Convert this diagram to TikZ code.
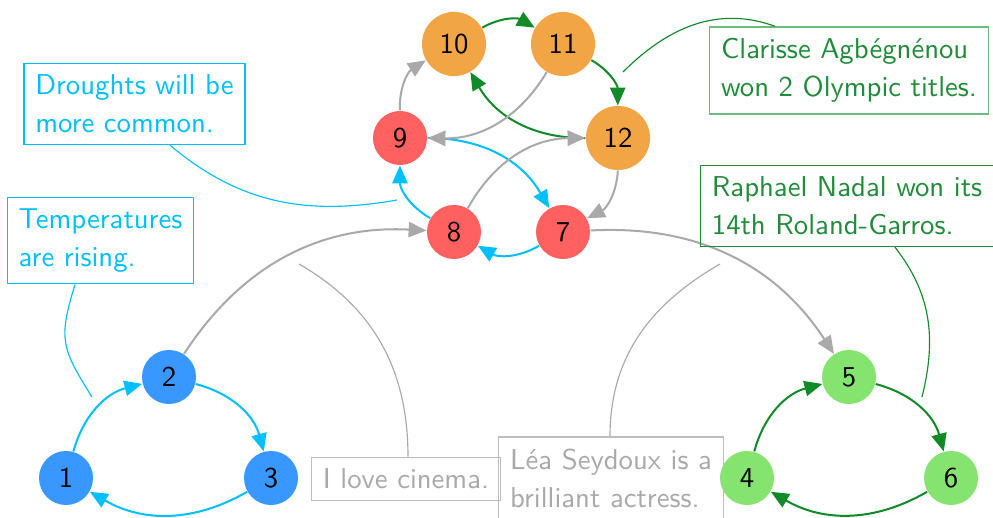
\documentclass[tikz,border=0pt]{standalone}
\usetikzlibrary{arrows.meta,calc}
\definecolor{nblue}{RGB}{56,152,255}
\definecolor{nred}{RGB}{255,96,96}
\definecolor{norange}{RGB}{242,165,68}
\definecolor{ngreen}{RGB}{133,228,112}
\definecolor{ecyan}{RGB}{0,191,255}
\definecolor{egreen}{RGB}{17,138,40}
\definecolor{egray}{RGB}{169,169,169}
\definecolor{tgreen}{RGB}{32,140,58}
\definecolor{bgreenlight}{RGB}{110,185,125}
\definecolor{bgray}{RGB}{190,190,190}
\begin{document}
\begin{tikzpicture}[x=0.348pt,y=-0.348pt,
  font=\sffamily\fontsize{10}{13.2}\selectfont,
  vert/.style={circle, inner sep=0pt, text=black},
  sone/.style={minimum size=18.8pt},
  stwo/.style={minimum size=22.3pt},
  edge/.style={line width=0.7pt, -{Triangle[length=6.2pt,width=5.3pt]}},
  cyanedge/.style={edge, ecyan},
  greenedge/.style={edge, egreen},
  grayedge/.style={edge, egray},
  annot/.style={draw, align=left, inner sep=4pt, line width=0.45pt},
  thinline/.style={line width=0.4pt},
]
\useasboundingbox (0,0) rectangle (993,518);

% blue graph
\node[vert,sone,fill=nblue] (n1) at (66,478) {1};
\node[vert,sone,fill=nblue] (n2) at (169,377) {2};
\node[vert,sone,fill=nblue] (n3) at (271,478) {3};
% green graph
\node[vert,sone,fill=ngreen] (n4) at (747,478) {4};
\node[vert,sone,fill=ngreen] (n5) at (849,377) {5};
\node[vert,sone,fill=ngreen] (n6) at (951,478) {6};
% red / orange
\node[vert,sone,fill=nred] (n7) at (563,232) {7};
\node[vert,sone,fill=nred] (n8) at (454,232) {8};
\node[vert,sone,fill=nred] (n9) at (400,138) {9};
\node[vert,stwo,fill=norange] (n10) at (454,44) {10};
\node[vert,stwo,fill=norange] (n11) at (563,44) {11};
\node[vert,stwo,fill=norange] (n12) at (618,138) {12};

\draw[cyanedge] (n1) to[bend left] (n2);
\draw[cyanedge] (n2) to[bend left] (n3);
\draw[cyanedge] (n3) to[bend left] (n1);
\draw[greenedge] (n4) to[bend left] (n5);
\draw[greenedge] (n5) to[bend left] (n6);
\draw[greenedge] (n6) to[bend left] (n4);
\draw[cyanedge] (n8) to[bend left] (n9);
\draw[cyanedge] (n9) to[bend left] (n7);
\draw[cyanedge] (n7) to[bend left] (n8);
\draw[greenedge] (n10) to[bend left] (n11);
\draw[greenedge] (n11) to[bend left] (n12);
\draw[greenedge] (n12) to[bend left] (n10);
\draw[grayedge] (n11) to[bend left] (n9);
\draw[grayedge] (n9) to[bend left] (n10);
\draw[grayedge] (n8) to[bend left] (n12);
\draw[grayedge] (n12) to[bend left] (n7);
\draw[grayedge] (n2) to[bend left] (n8);
\draw[grayedge] (n7) to[bend left] (n5);

% annotations
\node[annot, draw=ecyan, text=ecyan] (drought) at (134.5,104) {Droughts will be\\more common.};
\coordinate (d1) at (397,200);
\draw[thinline, ecyan] ($(drought.south)+(35.5,0)$) to[out=-40,in=190] (d1);

\node[annot, draw=ecyan, text=ecyan] (temp) at (100.5,240.5) {Temperatures\\are rising.};
\coordinate (t1) at (92,397);
\draw[thinline, ecyan] ($(temp.south)+(-25.5,0)$) to[out=-107,in=122,looseness=1.3] (t1);

\node[annot, draw=bgreenlight, text=tgreen] (clar) at (849,70.5) {Clarisse Agbégnénou\\won 2 Olympic titles.};
\coordinate (c1) at (623,72);
\draw[thinline, egreen] ($(clar.north)+(-74,0)$) to[out=160,in=45] (c1);

\node[annot, draw=tgreen, text=tgreen] (rafa) at (847,206) {Raphael Nadal won its\\14th Roland-Garros.};
\coordinate (r1) at (922,397);
\draw[thinline, egreen] ($(rafa.south)+(48,0)$) to[out=-52,in=76] (r1);

\node[annot, draw=bgray, text=egray] (cine) at (406,479) {I love cinema.};
\coordinate (k1) at (299,264);
\draw[thinline, egray] ($(cine.north)+(2,0)$) to[out=90,in=-30] (k1);

\node[annot, draw=bgray, text=egray] (lea) at (611,478) {Léa Seydoux is a\\brilliant actress.};
\coordinate (l1) at (720,264);
\draw[thinline, egray] ($(lea.north)+(-1,0)$) to[out=90,in=210] (l1);
\end{tikzpicture}
\end{document}
